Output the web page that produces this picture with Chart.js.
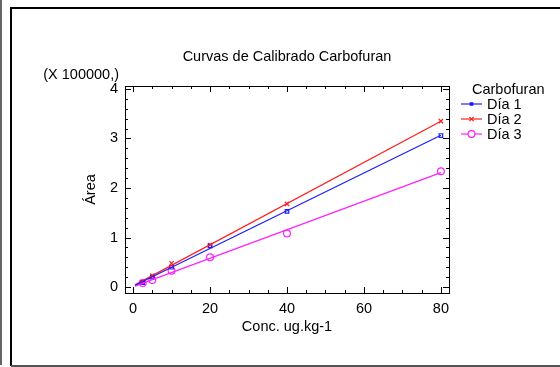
<!DOCTYPE html>
<html>
<head>
<meta charset="utf-8">
<script src="https://cdn.jsdelivr.net/npm/chart.js@4/dist/chart.umd.min.js"></script>
<style>
  html, body { margin: 0; padding: 0; background: #fff; }
  #wrap { width: 560px; height: 367px; position: relative; }
</style>
</head>
<body>
<div id="wrap"><canvas id="chart" width="560" height="367"></canvas></div>
<script>
// concentrations (ug/kg) and peak areas (x 100000)
const conc = [2.5, 5, 10, 20, 40, 80];
const dia1 = [0.09, 0.20, 0.40, 0.83, 1.53, 3.06];
const dia2 = [0.10, 0.23, 0.48, 0.85, 1.68, 3.35];
const dia3 = [0.08, 0.14, 0.33, 0.60, 1.08, 2.34];
const seriesNames = ["Día 1", "Día 2", "Día 3"];
const xTicks = [0, 20, 40, 60, 80];
const yTicks = [0, 1, 2, 3, 4];
const fitFrom = 0.5;

const colors = ["#1c1cff", "#ff1c1c", "#ff20ff"];
const FONT = "Liberation Sans, Arial, sans-serif";

// least squares line through the points
function fit(xs, ys) {
  const n = xs.length;
  const mx = xs.reduce((a, b) => a + b, 0) / n;
  const my = ys.reduce((a, b) => a + b, 0) / n;
  let sxy = 0, sxx = 0;
  for (let i = 0; i < n; i++) {
    sxy += (xs[i] - mx) * (ys[i] - my);
    sxx += (xs[i] - mx) * (xs[i] - mx);
  }
  const b = sxy / sxx;
  const a = my - b * mx;
  const x1 = fitFrom, x2 = Math.max(...xs);
  return [{ x: x1, y: a + b * x1 }, { x: x2, y: a + b * x2 }];
}

const pts = (ys) => conc.map((x, i) => ({ x: x, y: ys[i] }));
const allY = [dia1, dia2, dia3];

const datasets = [];
allY.forEach((ys, i) => {
  datasets.push({
    label: seriesNames[i] + " fit",
    data: fit(conc, ys),
    showLine: true,
    borderColor: colors[i],
    borderWidth: 1.2,
    pointRadius: 0,
  });
});
const markerStyles = [
  { pointStyle: "rect", pointRadius: 2.5 },
  { pointStyle: "crossRot", pointRadius: 3 },
  { pointStyle: "circle", pointRadius: 3.4 },
];
allY.forEach((ys, i) => {
  datasets.push({
    label: seriesNames[i],
    data: pts(ys),
    showLine: false,
    borderColor: colors[i],
    backgroundColor: "rgba(0,0,0,0)",
    borderWidth: 1.2,
    pointStyle: markerStyles[i].pointStyle,
    pointRadius: markerStyles[i].pointRadius,
  });
});

const decor = {
  id: "decor",
  beforeDraw(chart) {
    const ctx = chart.ctx;
    ctx.save();
    ctx.fillStyle = "#fff";
    ctx.fillRect(0, 0, chart.width, chart.height);
    // outer frame
    ctx.strokeStyle = "#666";
    ctx.lineWidth = 2;
    ctx.beginPath();
    ctx.moveTo(1, 0);
    ctx.lineTo(1, 365);
    ctx.stroke();
    ctx.strokeStyle = "#000";
    ctx.lineWidth = 2;
    ctx.beginPath();
    ctx.moveTo(570, 8);
    ctx.lineTo(11, 8);
    ctx.lineTo(11, 366);
    ctx.stroke();
    ctx.strokeStyle = "#555";
    ctx.beginPath();
    ctx.moveTo(11, 366);
    ctx.lineTo(570, 366);
    ctx.stroke();
    ctx.restore();
  },
  afterDatasetsDraw(chart) {
    const ctx = chart.ctx;
    const a = chart.chartArea;
    const xs = chart.scales.x, ys = chart.scales.y;
    ctx.save();
    ctx.strokeStyle = "#000";
    ctx.lineWidth = 1;
    ctx.strokeRect(a.left + 0.5, a.top + 0.5, a.right - a.left, a.bottom - a.top);
    // inner ticks on all sides
    ctx.beginPath();
    for (let v = 0; v <= 80; v += 5) {
      const px = Math.round(xs.getPixelForValue(v)) + 0.5;
      const len = v % 20 === 0 ? 6 : 3;
      ctx.moveTo(px, a.bottom); ctx.lineTo(px, a.bottom - len);
      ctx.moveTo(px, a.top); ctx.lineTo(px, a.top + len);
    }
    for (let k = 0; k <= 20; k++) {
      const v = k * 0.2;
      const py = Math.round(ys.getPixelForValue(v)) + 0.5;
      const len = k % 5 === 0 ? 6 : 3;
      ctx.moveTo(a.left, py); ctx.lineTo(a.left + len, py);
      ctx.moveTo(a.right, py); ctx.lineTo(a.right - len, py);
    }
    ctx.stroke();

    // texts
    ctx.fillStyle = "#000";
    ctx.textBaseline = "middle";
    ctx.font = "14.5px " + FONT;
    ctx.textAlign = "center";
    ctx.fillText("Curvas de Calibrado Carbofuran", (a.left + a.right) / 2, 57);
    ctx.textAlign = "right";
    ctx.fillText("(X 100000,)", a.left - 6, 75);
    ctx.textAlign = "center";
    ctx.fillText("Conc. ug.kg-1", (a.left + a.right) / 2, 327);
    ctx.save();
    ctx.translate(91, (a.top + a.bottom) / 2);
    ctx.rotate(-Math.PI / 2);
    ctx.fillText("Área", 0, 0);
    ctx.restore();

    // legend
    ctx.textAlign = "left";
    ctx.fillText("Carbofuran", 472, 90);
    seriesNames.forEach((name, i) => {
      const y = 104 + i * 15;
      ctx.strokeStyle = colors[i];
      ctx.lineWidth = 1.2;
      ctx.beginPath();
      ctx.moveTo(461, y); ctx.lineTo(482, y);
      ctx.stroke();
      ctx.fillStyle = i === 0 ? colors[i] : "#fff";
      Chart.helpers.drawPoint(ctx, {
        pointStyle: markerStyles[i].pointStyle,
        radius: i === 0 ? 1.8 : markerStyles[i].pointRadius,
        borderWidth: 1.2,
      }, 471.5, y);
      ctx.fillStyle = "#000";
      ctx.fillText(name, 487, y + 1);
    });
    ctx.restore();
  },
};

new Chart(document.getElementById("chart"), {
  type: "scatter",
  data: { datasets: datasets },
  options: {
    responsive: false,
    animation: false,
    layout: { padding: { left: 0, top: 86, right: 111, bottom: 0 } },
    plugins: { legend: { display: false }, title: { display: false }, tooltip: { enabled: false } },
    scales: {
      x: {
        type: "linear",
        min: -2.1,
        max: 82.1,
        afterFit(s) { s.height = 74; },
        afterBuildTicks(s) { s.ticks = xTicks.map(v => ({ value: v })); },
        grid: { display: false, drawTicks: false },
        border: { display: false },
        ticks: { padding: 7, color: "#000", font: { family: FONT, size: 14.5 } },
      },
      y: {
        type: "linear",
        min: -0.12,
        max: 4.06,
        afterFit(s) { s.width = 125; },
        afterBuildTicks(s) { s.ticks = yTicks.map(v => ({ value: v })); },
        grid: { display: false, drawTicks: false },
        border: { display: false },
        ticks: { padding: 7, color: "#000", font: { family: FONT, size: 14.5 } },
      },
    },
  },
  plugins: [decor],
});
</script>
</body>
</html>
